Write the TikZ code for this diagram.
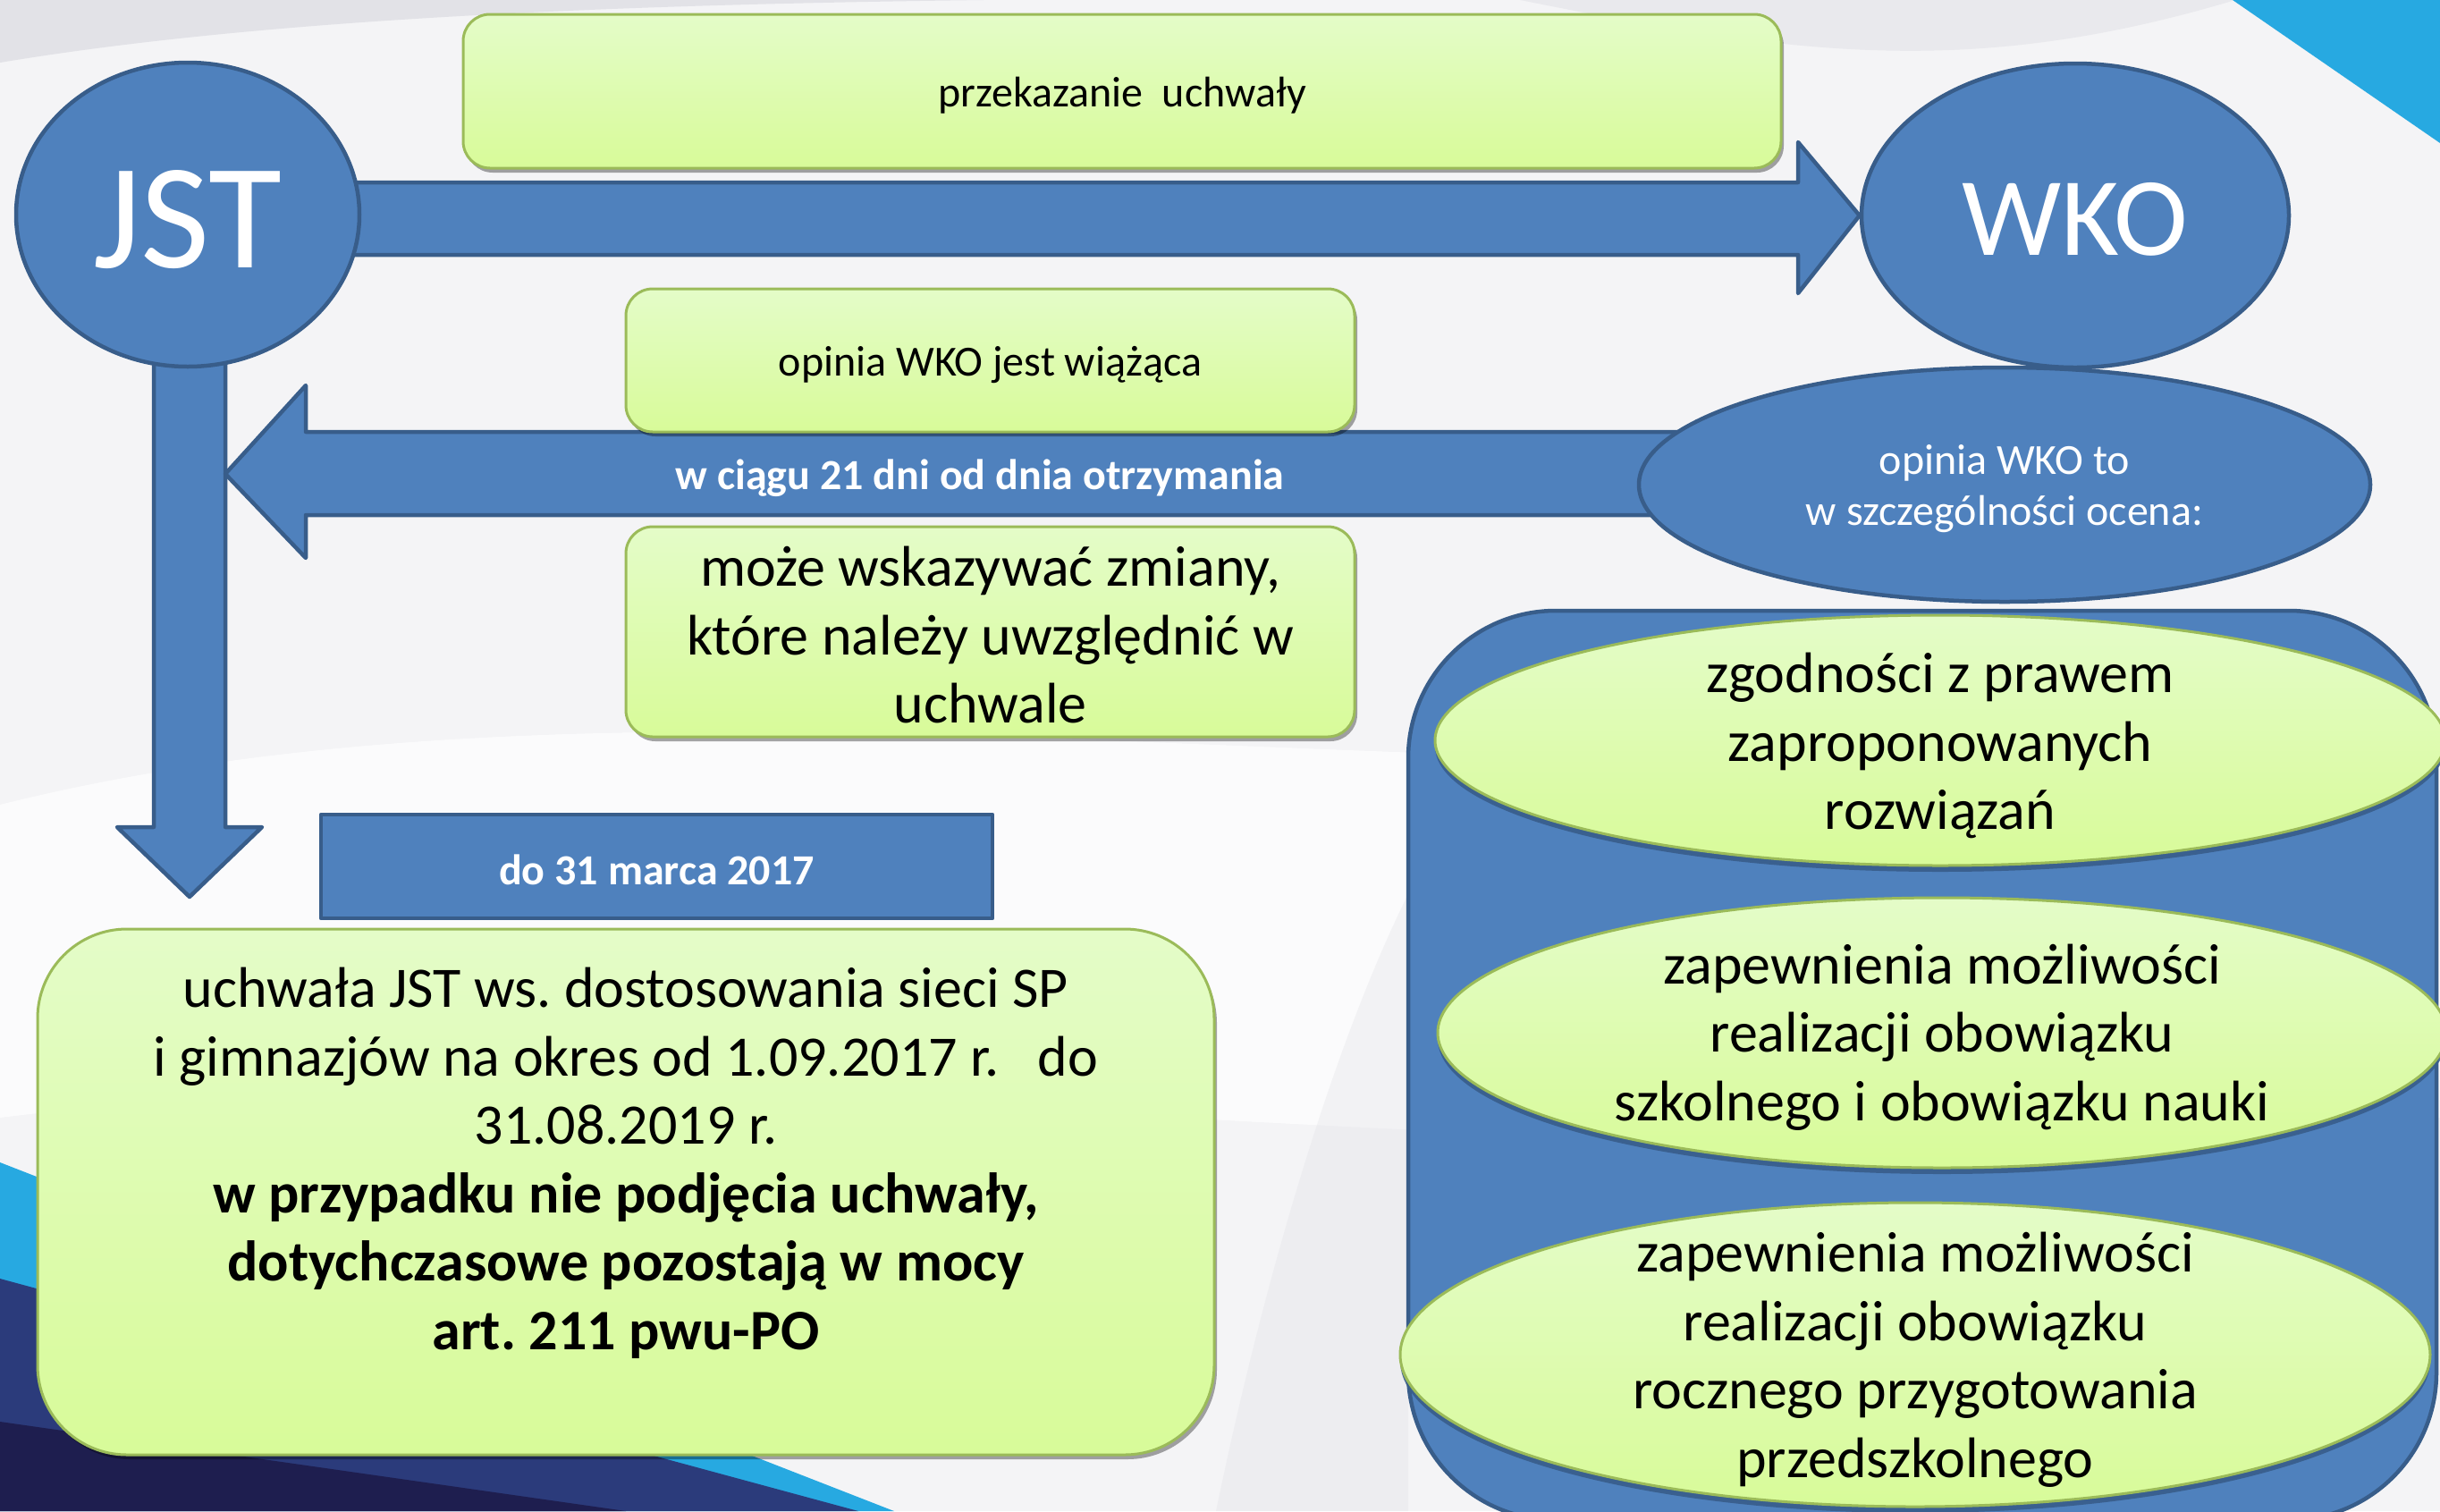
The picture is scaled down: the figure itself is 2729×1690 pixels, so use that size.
\documentclass[tikz,border=0pt]{standalone}
\usepackage{fontspec}
\setmainfont{Carlito}
\frenchspacing
\usetikzlibrary{shapes.geometric,shadows,calc}
\definecolor{bgcol}{HTML}{F4F4F6}
\definecolor{blueFill}{HTML}{4F81BD}
\definecolor{blueLine}{HTML}{385D8A}
\definecolor{greenTop}{HTML}{E4FCC8}
\definecolor{greenBot}{HTML}{D8FB99}
\definecolor{greenLine}{HTML}{9BBB59}
\definecolor{cyanDeco}{HTML}{27A9E1}
\definecolor{navyDeco}{HTML}{2B3B7B}
\definecolor{darkNavy}{HTML}{1E1E4F}
\definecolor{swoosh}{HTML}{E2E2E7}
\newcommand{\fSmallTxt}{\fontsize{48}{57}\selectfont}
\newcommand{\fBoldTxt}{\fontsize{48}{57}\selectfont\bfseries}
\newcommand{\fBigTxt}{\fontsize{64}{76.5}\selectfont}
\pgfdeclarelayer{decolayer}
\pgfdeclarelayer{arrowlayer}
\pgfsetlayers{decolayer,arrowlayer,main}
\begin{document}
\begin{tikzpicture}[x=1pt,y=-1pt,
  blueshape/.style={fill=blueFill, draw=blueLine, line width=4.5pt, line join=round},
  blueellipse/.style={ellipse, blueshape, inner sep=0pt},
  greenbox/.style={rectangle, rounded corners=30pt, top color=greenTop, bottom color=greenBot,
     draw=greenLine, line width=3pt, inner sep=0pt,
     drop shadow={shadow xshift=3pt, shadow yshift=-5pt, fill=black, opacity=0.35}},
  greenellipse/.style={ellipse, top color=greenTop, bottom color=greenBot,
     draw=greenLine, line width=3pt, inner sep=0pt,
     drop shadow={shadow xshift=0pt, shadow yshift=-7pt, fill=blueLine, opacity=0.9}},
  plaintext/.style={inner sep=0pt, align=center}
]
\useasboundingbox (0,0) rectangle (2729,1690);

% ---------- background ----------
\begin{pgfonlayer}{decolayer}
\fill[bgcol] (0,0) rectangle (2729,1690);
\fill[white, opacity=0.7] (0,900) .. controls (800,700) and (1800,950) .. (2729,800) -- (2729,1250) .. controls (1800,1350) and (800,1150) .. (0,1250) -- cycle;
\fill[swoosh] (0,0) -- (0,70) .. controls (300,20) and (700,5) .. (1100,0) -- cycle;
\fill[swoosh, opacity=0.6] (1700,0) .. controls (2000,60) and (2200,90) .. (2500,0) -- cycle;
\fill[swoosh, opacity=0.35] (1360,1690) .. controls (1420,1400) and (1500,1150) .. (1575,1000) -- (1575,1690) -- cycle;
\fill[cyanDeco] (2497,0) -- (2729,0) -- (2729,160) -- cycle;
\fill[cyanDeco] (0,1300) -- (1000,1690) -- (0,1690) -- cycle;
\fill[navyDeco] (0,1430) -- (960,1690) -- (0,1690) -- cycle;
\fill[darkNavy] (0,1590) -- (700,1690) -- (0,1690) -- cycle;
\end{pgfonlayer}

% ---------- main circles ----------
\node[blueellipse, minimum width=384pt, minimum height=340pt] (JST) at (210,240) {};
\node[plaintext, text=white, font=\fontsize{168}{170}\selectfont] (JSTt) at ($(JST.center)+(0,6)$) {JST};
\node[blueellipse, minimum width=478pt, minimum height=340pt] (WKO) at (2321,241) {};
\node[plaintext, text=white, font=\fontsize{125}{130}\selectfont] (WKOt) at ($(WKO.center)+(0,4)$) {WKO};
\node[blueellipse, minimum width=818pt, minimum height=262pt] (OPIN) at (2242,542) {};
\node[plaintext, text=white, font=\fSmallTxt] (OPINt) at ($(OPIN.center)+(0,5)$)
  {opinia WKO to\\ w szczególności ocena:};

% ---------- arrows ----------
\coordinate (downtip) at (212,1003);
\coordinate (lefttip) at (252,530);
\begin{pgfonlayer}{arrowlayer}
\path[blueshape] (250,204) -- (2011,204) -- (2011,159) -- (WKO.west) -- (2011,328) -- (2011,285) -- (250,285) -- cycle;
\path[blueshape] (172,300) -- (172,925) -- (131,925) -- (downtip) -- (293,925) -- (252,925) -- (252,300) -- cycle;
\path[blueshape] (2000,483) -- (342,483) -- (342,431) -- (lefttip) -- (342,624) -- (342,576) -- (2000,576) -- cycle;
\end{pgfonlayer}
\node[plaintext, text=white, font=\fBoldTxt] (DNI) at (1096,535) {w ciągu 21 dni od dnia otrzymania};

% ---------- green boxes ----------
\node[greenbox, minimum width=1474pt, minimum height=172pt] (PRZEK) at (1255,102) {};
\node[plaintext, font=\fSmallTxt] (PRZEKt) at ($(PRZEK.center)+(0,5)$) {przekazanie\ \ uchwały};
\node[greenbox, minimum width=815pt, minimum height=160pt] (WIAZ) at (1107.5,403) {};
\node[plaintext, font=\fSmallTxt] (WIAZt) at ($(WIAZ.center)+(0,5)$) {opinia WKO jest wiążąca};
\node[greenbox, minimum width=815pt, minimum height=235pt] (ZMIANY) at (1107.5,706.5) {};
\node[plaintext, font=\fBigTxt] (ZMIANYt) at ($(ZMIANY.center)+(0,4)$)
  {może wskazywać zmiany,\\ które należy uwzględnić w\\ uchwale};

% ---------- date box ----------
\node[rectangle, blueshape, minimum width=751pt, minimum height=116pt, inner sep=0pt] (DATA) at (734.5,969) {};
\node[plaintext, text=white, font=\fBoldTxt] (DATAt) at ($(DATA.center)+(0,4)$) {do 31 marca 2017};

% ---------- big box ----------
\node[greenbox, rounded corners=100pt, minimum width=1316pt, minimum height=588pt] (UCHW) at (700,1333) {};
\node[plaintext, font=\fBigTxt] (UCHWt) at ($(UCHW.center)+(0,-32)$)
  {uchwała JST ws. dostosowania sieci SP\\
   i gimnazjów na okres od 1.09.2017 r.\ \ \ do\\
   31.08.2019 r.\\
   \textbf{w przypadku nie podjęcia uchwały,}\\
   \textbf{dotychczasowe pozostają w mocy}\\
   \textbf{art. 211 pwu-PO}};

% ---------- cylinder ----------
\node[rectangle, blueshape, rounded corners=165pt, minimum width=1150pt, minimum height=1017pt, inner sep=0pt] (CYL) at (2150,1191.5) {};
\node[greenellipse, minimum width=1130pt, minimum height=280pt] (E1) at (2170,828) {};
\node[plaintext, font=\fBigTxt] (E1t) at ($(E1.center)+(0,6)$)
  {zgodności z prawem\\ zaproponowanych\\ rozwiązań};
\node[greenellipse, minimum width=1128pt, minimum height=302pt] (E2) at (2172,1155) {};
\node[plaintext, font=\fBigTxt] (E2t) at ($(E2.center)+(0,5)$)
  {zapewnienia możliwości\\ realizacji obowiązku\\ szkolnego i obowiązku nauki};
\node[greenellipse, minimum width=1152pt, minimum height=340pt] (E3) at (2142,1515) {};
\node[plaintext, font=\fBigTxt] (E3t) at ($(E3.center)+(0,6)$)
  {zapewnienia możliwości\\ realizacji obowiązku\\ rocznego przygotowania\\ przedszkolnego};
\end{tikzpicture}
\end{document}
